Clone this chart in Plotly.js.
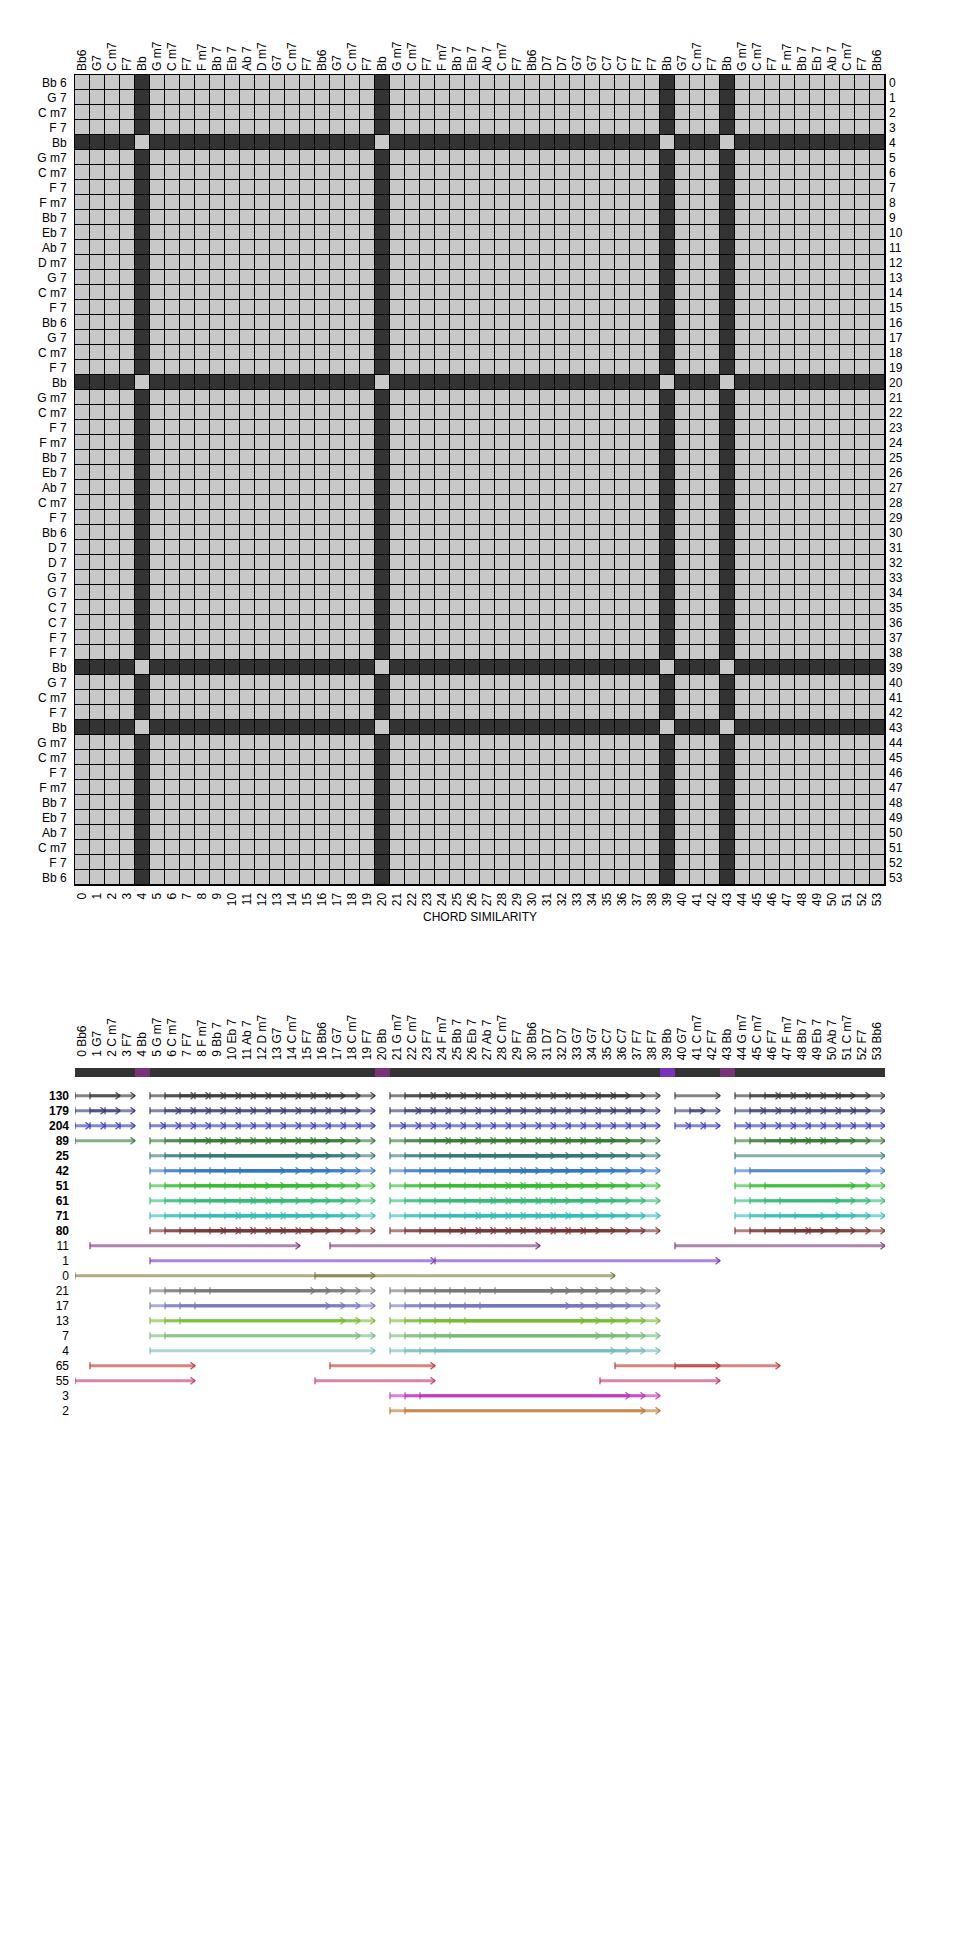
<!DOCTYPE html>
<html><head><meta charset="utf-8">
<script src="https://cdn.plot.ly/plotly-3.0.1.min.js"></script>
<style>html,body{margin:0;padding:0;background:#fff}</style>
</head><body><div id="chart" style="width:960px;height:1940px"></div>
<script>
// ---------- DATA ----------
const chordTop = ["Bb6","G7","C m7","F7","Bb","G m7","C m7","F7","F m7","Bb 7","Eb 7","Ab 7","D m7","G7","C m7","F7","Bb6","G7","C m7","F7","Bb","G m7","C m7","F7","F m7","Bb 7","Eb 7","Ab 7","C m7","F7","Bb6","D7","D7","G7","G7","C7","C7","F7","F7","Bb","G7","C m7","F7","Bb","G m7","C m7","F7","F m7","Bb 7","Eb 7","Ab 7","C m7","F7","Bb6"];
const chordLeft = ["Bb 6","G 7","C m7","F 7","Bb","G m7","C m7","F 7","F m7","Bb 7","Eb 7","Ab 7","D m7","G 7","C m7","F 7","Bb 6","G 7","C m7","F 7","Bb","G m7","C m7","F 7","F m7","Bb 7","Eb 7","Ab 7","C m7","F 7","Bb 6","D 7","D 7","G 7","G 7","C 7","C 7","F 7","F 7","Bb","G 7","C m7","F 7","Bb","G m7","C m7","F 7","F m7","Bb 7","Eb 7","Ab 7","C m7","F 7","Bb 6"];
const indexLabels = ["0","1","2","3","4","5","6","7","8","9","10","11","12","13","14","15","16","17","18","19","20","21","22","23","24","25","26","27","28","29","30","31","32","33","34","35","36","37","38","39","40","41","42","43","44","45","46","47","48","49","50","51","52","53"];

// similarity matrix rows (1 = similar, 0 = not similar)
const similarityRows = [
"111101111111111111110111111111111111111011101111111111",
"111101111111111111110111111111111111111011101111111111",
"111101111111111111110111111111111111111011101111111111",
"111101111111111111110111111111111111111011101111111111",
"000010000000000000001000000000000000000100010000000000",
"111101111111111111110111111111111111111011101111111111",
"111101111111111111110111111111111111111011101111111111",
"111101111111111111110111111111111111111011101111111111",
"111101111111111111110111111111111111111011101111111111",
"111101111111111111110111111111111111111011101111111111",
"111101111111111111110111111111111111111011101111111111",
"111101111111111111110111111111111111111011101111111111",
"111101111111111111110111111111111111111011101111111111",
"111101111111111111110111111111111111111011101111111111",
"111101111111111111110111111111111111111011101111111111",
"111101111111111111110111111111111111111011101111111111",
"111101111111111111110111111111111111111011101111111111",
"111101111111111111110111111111111111111011101111111111",
"111101111111111111110111111111111111111011101111111111",
"111101111111111111110111111111111111111011101111111111",
"000010000000000000001000000000000000000100010000000000",
"111101111111111111110111111111111111111011101111111111",
"111101111111111111110111111111111111111011101111111111",
"111101111111111111110111111111111111111011101111111111",
"111101111111111111110111111111111111111011101111111111",
"111101111111111111110111111111111111111011101111111111",
"111101111111111111110111111111111111111011101111111111",
"111101111111111111110111111111111111111011101111111111",
"111101111111111111110111111111111111111011101111111111",
"111101111111111111110111111111111111111011101111111111",
"111101111111111111110111111111111111111011101111111111",
"111101111111111111110111111111111111111011101111111111",
"111101111111111111110111111111111111111011101111111111",
"111101111111111111110111111111111111111011101111111111",
"111101111111111111110111111111111111111011101111111111",
"111101111111111111110111111111111111111011101111111111",
"111101111111111111110111111111111111111011101111111111",
"111101111111111111110111111111111111111011101111111111",
"111101111111111111110111111111111111111011101111111111",
"000010000000000000001000000000000000000100010000000000",
"111101111111111111110111111111111111111011101111111111",
"111101111111111111110111111111111111111011101111111111",
"111101111111111111110111111111111111111011101111111111",
"000010000000000000001000000000000000000100010000000000",
"111101111111111111110111111111111111111011101111111111",
"111101111111111111110111111111111111111011101111111111",
"111101111111111111110111111111111111111011101111111111",
"111101111111111111110111111111111111111011101111111111",
"111101111111111111110111111111111111111011101111111111",
"111101111111111111110111111111111111111011101111111111",
"111101111111111111110111111111111111111011101111111111",
"111101111111111111110111111111111111111011101111111111",
"111101111111111111110111111111111111111011101111111111",
"111101111111111111110111111111111111111011101111111111"
];

// segment bar above the pattern rows (0 = normal, 1 = Bb, 2 = Bb variant)
const barCodes = [0,0,0,0,1, 0,0,0,0,0,0,0,0,0,0,0,0,0,0,0, 1, 0,0,0,0,0,0,0,0,0,0,0,0,0,0,0,0,0,0, 2, 0,0,0, 1, 0,0,0,0,0,0,0,0,0,0];
const barPalette = ["#333333","#773377","#7733bb"];

// pattern rows
const rowLabels  = ["130","179","204","89","25","42","51","61","71","80","11","1","0","21","17","13","7","4","65","55","3","2"];
const rowLengths = [3,2,1,4,10,9,8,7,6,5,14,19,20,11,12,13,14,15,7,8,16,17];
const rowColors  = ["#333333","#333377","#3333bb","#337733","#337777","#3377bb","#33bb33","#33bb77","#33bbbb","#773333","#773377","#7733bb","#777733","#777777","#7777bb","#77bb33","#77bb77","#77bbbb","#bb3333","#bb3377","#bb33bb","#bb7733"];
const rowStarts = [
 [0,1,5,6,7,8,9,10,11,12,13,14,15,16,17,21,22,23,24,25,26,27,28,29,30,31,32,33,34,35,36,40,44,45,46,47,48,49,50,51],
 [0,1,2,5,6,7,8,9,10,11,12,13,14,15,16,17,18,21,22,23,24,25,26,27,28,29,30,31,32,33,34,35,36,37,40,41,44,45,46,47,48,49,50,51,52],
 [0,1,2,3,5,6,7,8,9,10,11,12,13,14,15,16,17,18,19,21,22,23,24,25,26,27,28,29,30,31,32,33,34,35,36,37,38,40,41,42,44,45,46,47,48,49,50,51,52,53],
 [0,5,6,7,8,9,10,11,12,13,14,15,16,21,22,23,24,25,26,27,28,29,30,31,32,33,34,35,44,45,46,47,48,49,50],
 [5,6,7,8,9,10,21,22,23,24,25,26,27,28,29,44],
 [5,6,7,8,9,10,11,21,22,23,24,25,26,27,28,29,30,44,45],
 [5,6,7,8,9,10,11,12,21,22,23,24,25,26,27,28,29,30,31,44,45,46],
 [5,6,7,8,9,10,11,12,13,21,22,23,24,25,26,27,28,29,30,31,32,44,45,46,47],
 [5,6,7,8,9,10,11,12,13,14,21,22,23,24,25,26,27,28,29,30,31,32,33,44,45,46,47,48],
 [5,6,7,8,9,10,11,12,13,14,15,21,22,23,24,25,26,27,28,29,30,31,32,33,34,44,45,46,47,48,49],
 [1,17,40],
 [5,24],
 [0,16],
 [5,6,7,8,9,21,22,23,24,25,26,27,28],
 [5,6,7,8,21,22,23,24,25,26,27],
 [5,6,7,21,22,23,24,25,26],
 [5,6,21,22,23,24,25],
 [5,21,22,23,24],
 [1,17,36,40],
 [0,16,35],
 [21,22,23],
 [21,22]
];

// ---------- BUILD ----------
const FONT = "Liberation Sans, Arial, sans-serif";
const idx = chordTop.map((_, i) => i);
const traces = [];

traces.push({
  type: 'heatmap', xaxis: 'x', yaxis: 'y',
  z: similarityRows.map(r => r.split('').map(Number)),
  colorscale: [[0, '#333333'], [1, '#c8c8c8']], zmin: 0, zmax: 1,
  showscale: false, xgap: 1, ygap: 1, hoverinfo: 'skip'
});
traces.push({type: 'scatter', mode: 'markers', x: [0], y: [0], xaxis: 'x4', yaxis: 'y3',
  marker: {opacity: 0, size: 1}, hoverinfo: 'skip', showlegend: false});

traces.push({
  type: 'bar', xaxis: 'x2', yaxis: 'y2',
  x: idx.map(i => i + 0.5), y: idx.map(() => 0.6), base: -1.85, width: 1,
  marker: {color: barCodes.map(c => barPalette[c]), line: {width: 0}},
  hoverinfo: 'skip', showlegend: false
});

const TH = 0.23, AW = 0.3;
rowLabels.forEach((lab, r) => {
  const L = rowLengths[r], col = rowColors[r];
  rowStarts[r].forEach(s => {
    traces.push({type: 'scatter', mode: 'lines', xaxis: 'x2', yaxis: 'y2',
      x: [s, s + L], y: [r, r], line: {color: col, width: 3}, opacity: 0.6,
      hoverinfo: 'skip', showlegend: false});
  });
  const mx = [], my = [];
  rowStarts[r].forEach(s => {
    const e = s + L;
    mx.push(s, s, null, e - AW, e, e - AW, null);
    my.push(r - TH, r + TH, null, r - TH, r, r + TH, null);
  });
  traces.push({type: 'scatter', mode: 'lines', xaxis: 'x2', yaxis: 'y2',
    x: mx, y: my, line: {color: col, width: 1.3}, opacity: 0.85,
    hoverinfo: 'skip', showlegend: false});
});

const xDom = [75 / 960, 885 / 960];
const baseAx = {showgrid: false, zeroline: false, ticks: '', tickmode: 'array', fixedrange: true,
  tickfont: {family: FONT, size: 12, color: '#000'}};

const layout = {
  width: 960, height: 1940, margin: {l: 0, r: 0, t: 0, b: 0},
  paper_bgcolor: '#ffffff', plot_bgcolor: '#ffffff', showlegend: false, hovermode: false,
  font: {family: FONT, size: 12, color: '#000'},
  xaxis: Object.assign({}, baseAx, {domain: xDom, anchor: 'y', range: [-0.5, 53.5],
    tickvals: idx, ticktext: indexLabels, tickangle: -90, ticklabelstandoff: 2,
    showline: true, mirror: true, linecolor: '#000', linewidth: 1}),
  xaxis4: Object.assign({}, baseAx, {overlaying: 'x', side: 'top', anchor: 'y', range: [-0.5, 53.5],
    tickvals: idx, ticktext: chordTop, tickangle: -90, ticklabelstandoff: 3, showline: false}),
  yaxis: Object.assign({}, baseAx, {domain: [1 - 885 / 1940, 1 - 75 / 1940], anchor: 'x', range: [53.5, -0.5],
    tickvals: idx, ticktext: chordLeft, ticklabelstandoff: 5,
    showline: true, mirror: true, linecolor: '#000', linewidth: 1}),
  yaxis3: Object.assign({}, baseAx, {overlaying: 'y', side: 'right', anchor: 'x', range: [53.5, -0.5],
    tickvals: idx, ticktext: indexLabels, ticklabelstandoff: 3, showline: false}),
  xaxis2: Object.assign({}, baseAx, {domain: xDom, anchor: 'y2', side: 'top', range: [0, 54],
    tickvals: idx.map(i => i + 0.5),
    ticktext: idx.map(i => (i < 10 ? '\u00a0' : '') + indexLabels[i] + ' ' + chordTop[i]),
    tickangle: -90, showline: false}),
  yaxis2: Object.assign({}, baseAx, {domain: [1 - 1425.7 / 1940, 1 - 1061.2 / 1940], anchor: 'x2', range: [22, -2.3],
    tickvals: rowLabels.map((_, r) => r), ticklabelstandoff: 5,
    ticktext: rowLabels.map((t, r) => r < 10 ? '<b>' + t + '</b>' : t), showline: false}),
  shapes: [{type: 'rect', xref: 'x domain', yref: 'y domain', x0: 0, x1: 1, y0: 0, y1: 1,
    fillcolor: '#000000', line: {width: 0}, layer: 'below'}],
  annotations: [{text: 'CHORD SIMILARITY', xref: 'paper', yref: 'paper', x: 0.5, y: 1 - 917 / 1940,
    xanchor: 'center', yanchor: 'middle', showarrow: false, font: {family: FONT, size: 12, color: '#000'}}]
};

Plotly.newPlot('chart', traces, layout, {staticPlot: true, displayModeBar: false});
</script></body></html>
